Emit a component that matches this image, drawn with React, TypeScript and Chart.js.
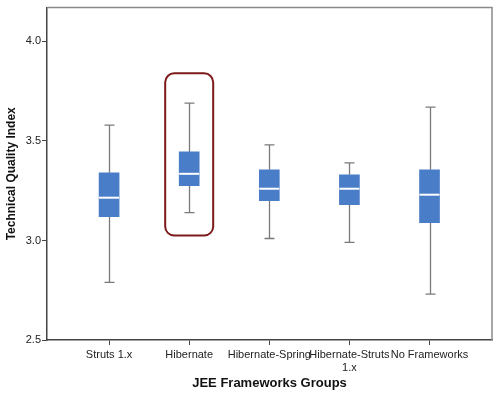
import React, { useEffect, useRef } from "react";
import { Chart, registerables } from "chart.js";

Chart.register(...registerables);

const categories: (string | string[])[] = [
  "Struts 1.x",
  "Hibernate",
  "Hibernate-Spring",
  ["Hibernate-Struts", "1.x"],
  "No Frameworks",
];
const whiskerLow = [2.79, 3.14, 3.01, 2.99, 2.73];
const q1 = [3.12, 3.275, 3.2, 3.18, 3.09];
const median = [3.215, 3.335, 3.26, 3.26, 3.23];
const q3 = [3.34, 3.445, 3.355, 3.33, 3.355];
const whiskerHigh = [3.58, 3.69, 3.48, 3.39, 3.67];
const yTicks = [2.5, 3.0, 3.5, 4.0];
const highlightIndex = 1;
const highlightRange = [3.025, 3.84];

const boxPlugin = {
  id: "boxExtras",
  beforeDatasetsDraw(chart: any) {
    const { ctx, scales } = chart;
    const xs = scales.x;
    const ys = scales.y;
    ctx.save();
    ctx.strokeStyle = "#7a7a7a";
    ctx.lineWidth = 1.3;
    categories.forEach((_, i) => {
      const x = Math.round(xs.getPixelForValue(i)) + 0.5;
      const yl = ys.getPixelForValue(whiskerLow[i]);
      const yh = ys.getPixelForValue(whiskerHigh[i]);
      const yq1 = ys.getPixelForValue(q1[i]);
      const yq3 = ys.getPixelForValue(q3[i]);
      ctx.beginPath();
      ctx.moveTo(x, yh);
      ctx.lineTo(x, yq3);
      ctx.moveTo(x, yq1);
      ctx.lineTo(x, yl);
      ctx.moveTo(x - 5, yh);
      ctx.lineTo(x + 5, yh);
      ctx.moveTo(x - 5, yl);
      ctx.lineTo(x + 5, yl);
      ctx.stroke();
    });
    ctx.restore();
  },
  afterDatasetsDraw(chart: any) {
    const { ctx, chartArea, scales } = chart;
    const xs = scales.x;
    const ys = scales.y;
    ctx.save();
    ctx.strokeStyle = "#ffffff";
    ctx.lineWidth = 2;
    categories.forEach((_, i) => {
      const x = xs.getPixelForValue(i);
      const ym = ys.getPixelForValue(median[i]);
      ctx.beginPath();
      ctx.moveTo(x - 10, ym);
      ctx.lineTo(x + 10, ym);
      ctx.stroke();
    });
    const hx = xs.getPixelForValue(highlightIndex);
    const top = ys.getPixelForValue(highlightRange[1]);
    const bot = ys.getPixelForValue(highlightRange[0]);
    ctx.strokeStyle = "#7d1a1a";
    ctx.lineWidth = 2;
    ctx.beginPath();
    (ctx as any).roundRect(hx - 24, top, 48, bot - top, 9);
    ctx.stroke();
    ctx.strokeStyle = "#8a8a8a";
    ctx.lineWidth = 1.5;
    ctx.beginPath();
    ctx.moveTo(chartArea.left, chartArea.top);
    ctx.lineTo(chartArea.right, chartArea.top);
    ctx.lineTo(chartArea.right, chartArea.bottom);
    ctx.stroke();
    ctx.restore();
  },
};

export default function App() {
  const ref = useRef<HTMLCanvasElement>(null);
  useEffect(() => {
    document.body.style.margin = "0";
    const chart = new Chart(ref.current!, {
      type: "bar",
      data: {
        datasets: [
          {
            data: categories.map((_, i) => ({ x: i, y: [q1[i], q3[i]] })) as any,
            backgroundColor: "#4a7dc8",
            borderWidth: 0,
            barThickness: 20,
          },
        ],
      },
      options: {
        animation: false,
        responsive: false,
        layout: { padding: { top: 5, right: 8, left: 0, bottom: 0 } },
        plugins: { legend: { display: false }, tooltip: { enabled: false } },
        scales: {
          x: {
            type: "linear",
            offset: false,
            min: -0.775,
            max: 4.78,
            afterBuildTicks: (axis: any) => {
              axis.ticks = categories.map((_, i) => ({ value: i }));
            },
            afterFit: (axis: any) => {
              axis.height = 57;
            },
            ticks: {
              autoSkip: false,
              maxRotation: 0,
              padding: 3,
              color: "#222",
              font: { family: "Liberation Sans, Arial", size: 11 },
              callback: (v: any) => categories[v as number] as any,
            },
            grid: {
              offset: false,
              drawOnChartArea: false,
              tickLength: 5,
              color: "#444",
            },
            border: { color: "#444", width: 1.5 },
            title: {
              display: true,
              text: "JEE Frameworks Groups",
              color: "#111",
              font: { family: "Liberation Sans, Arial", size: 13, weight: "bold" },
              padding: { top: 4, bottom: 6 },
            },
          },
          y: {
            min: 2.5,
            max: 4.17,
            afterBuildTicks: (axis: any) => {
              axis.ticks = yTicks.map((v) => ({ value: v }));
            },
            afterFit: (axis: any) => {
              axis.width = 47;
            },
            ticks: {
              padding: 1,
              color: "#222",
              font: { family: "Liberation Sans, Arial", size: 11 },
              callback: (v: any) => Number(v).toFixed(1),
            },
            grid: {
              drawOnChartArea: false,
              tickLength: 5,
              color: "#444",
            },
            border: { color: "#444", width: 1.5 },
            title: {
              display: true,
              text: "Technical Quality Index",
              color: "#111",
              font: { family: "Liberation Sans, Arial", size: 12, weight: "bold" },
              padding: { top: 4, bottom: 2 },
            },
          },
        },
      },
      plugins: [boxPlugin],
    } as any);
    return () => chart.destroy();
  }, []);
  return <canvas ref={ref} width={500} height={397} style={{ display: "block" }} />;
}
